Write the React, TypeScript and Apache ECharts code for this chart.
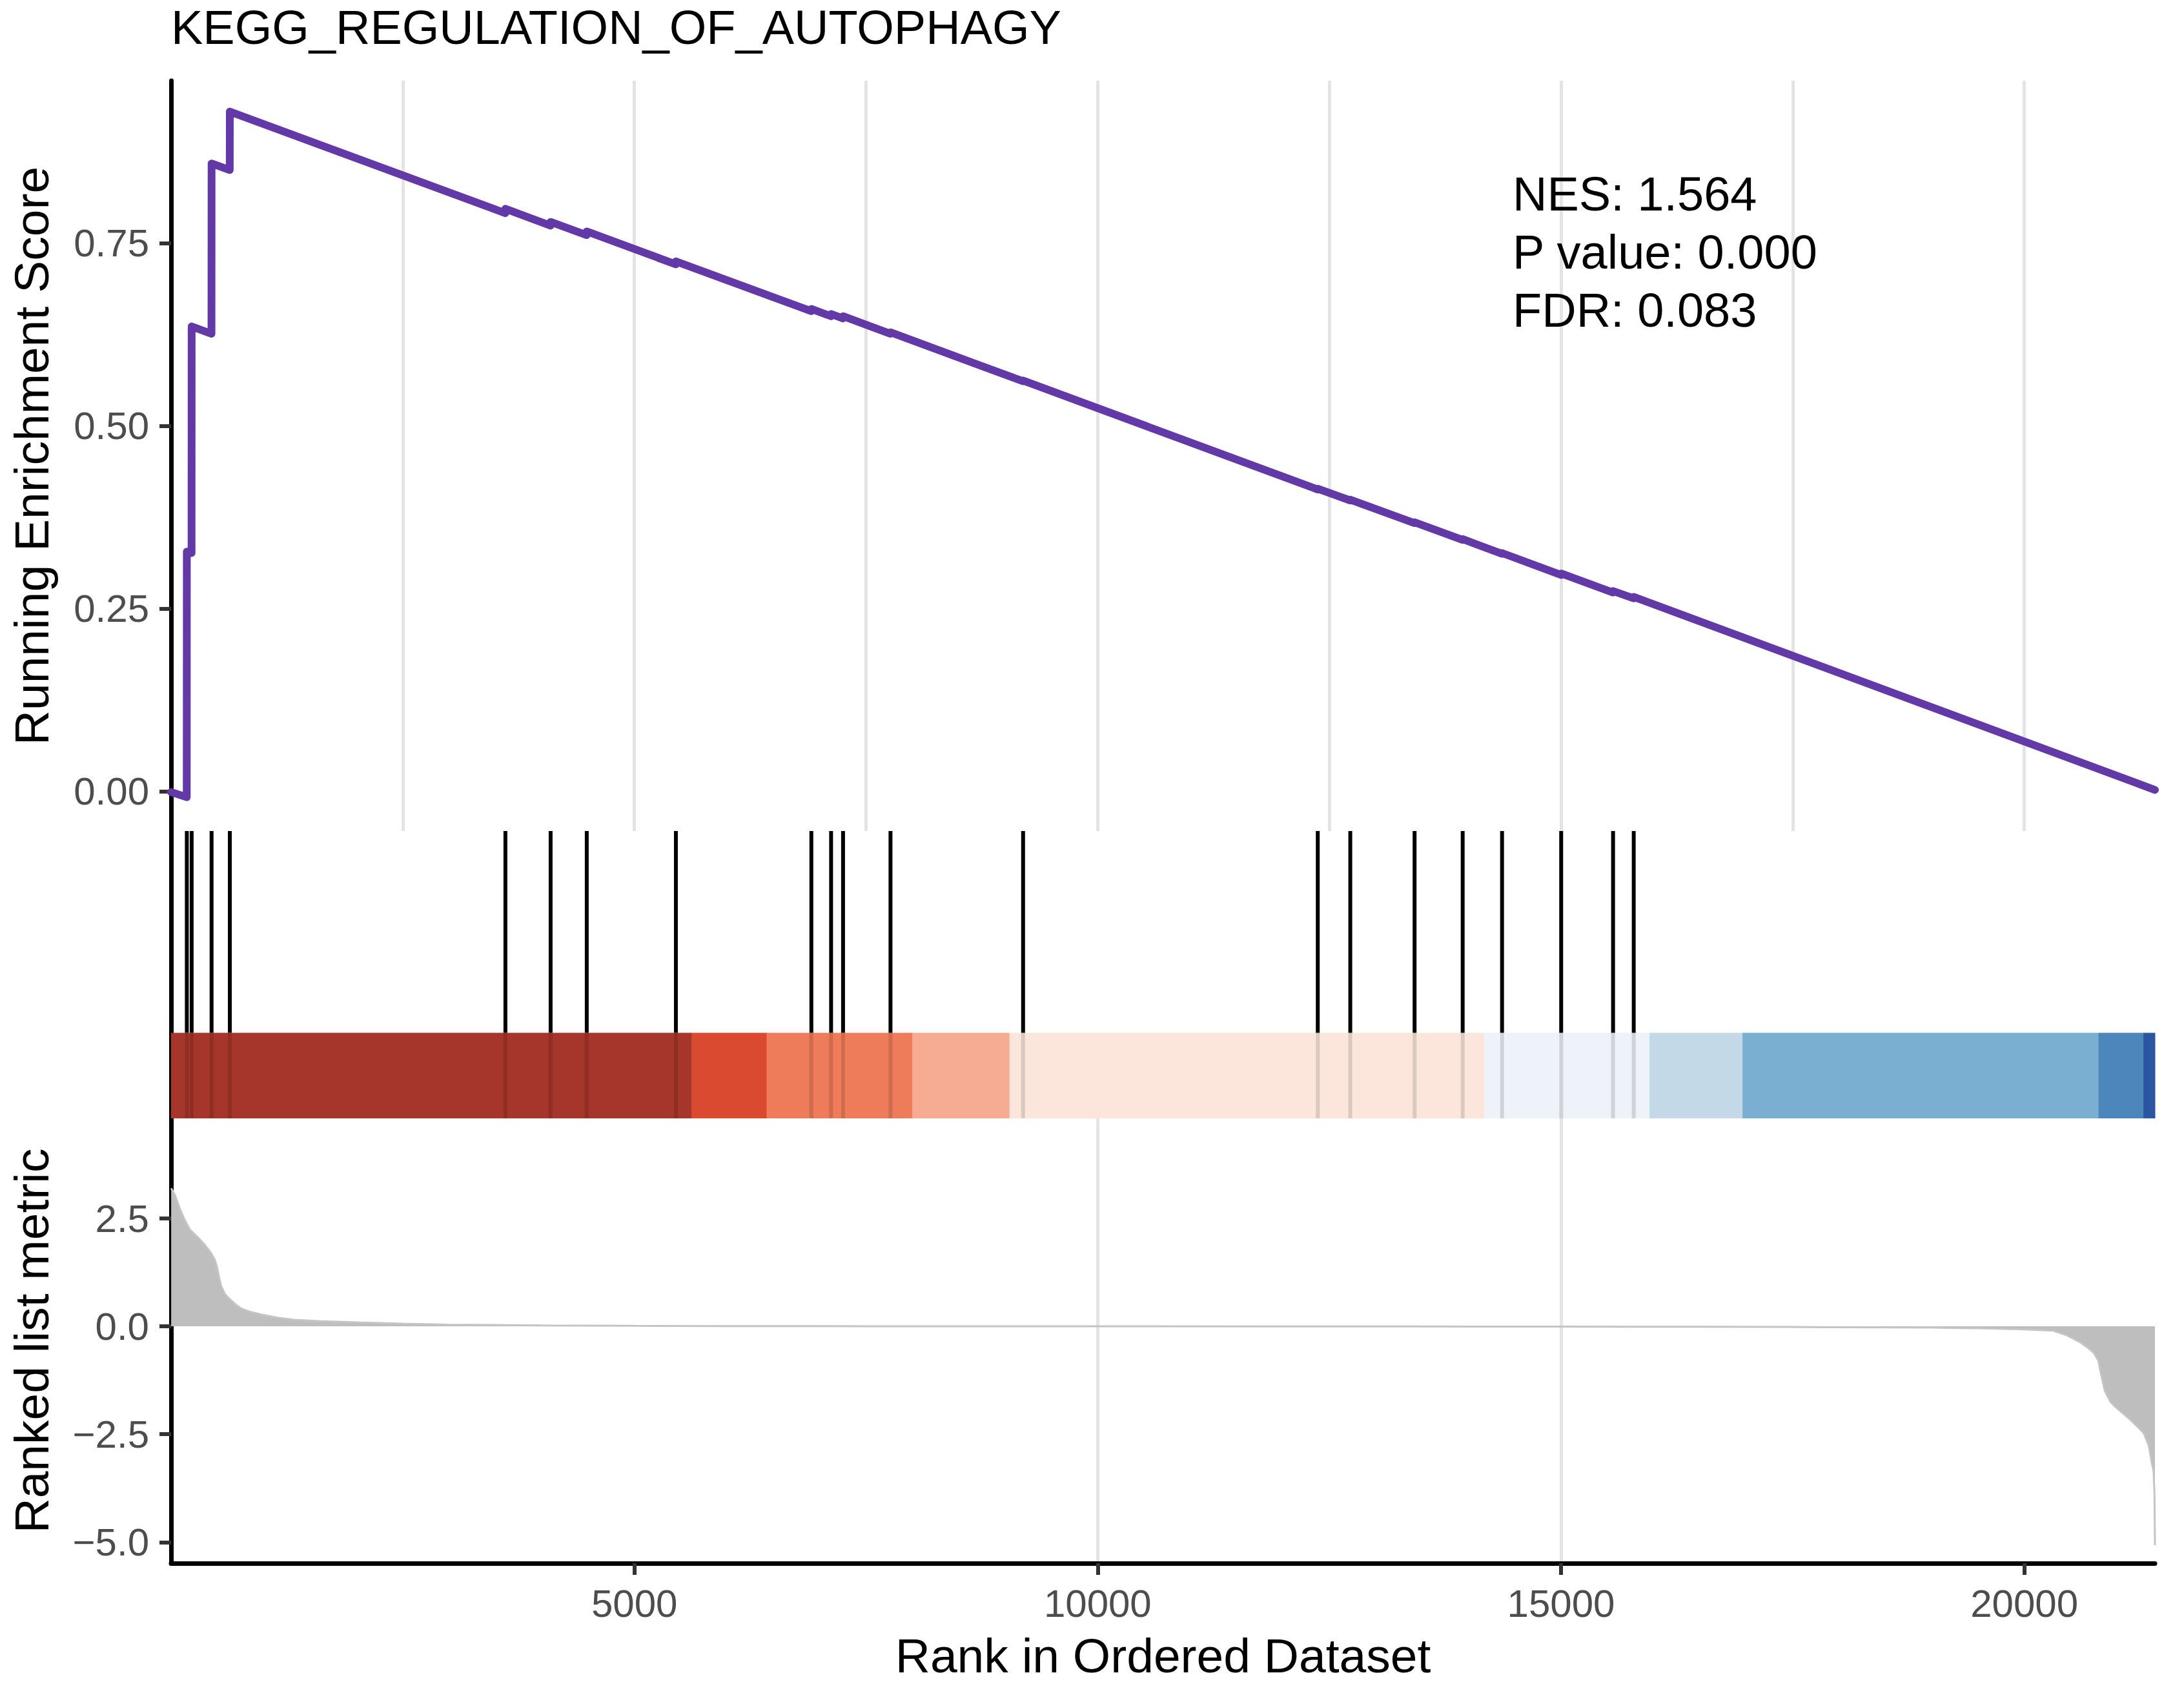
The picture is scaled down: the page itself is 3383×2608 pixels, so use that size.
import React, { useEffect, useRef } from "react";
import * as echarts from "echarts";

// ---------------- data ----------------
const TITLE = "KEGG_REGULATION_OF_AUTOPHAGY";
const STATS_LINES = ["NES: 1.564", "P value: 0.000", "FDR: 0.083"];
const X_TITLE = "Rank in Ordered Dataset";
const Y_TITLE_TOP = "Running Enrichment Score";
const Y_TITLE_BOTTOM = "Ranked list metric";

const X_MAX = 21410;
const X_TICKS = [5000, 10000, 15000, 20000];
const ES_TICKS = [0, 0.25, 0.5, 0.75];
const METRIC_TICKS = [-5, -2.5, 0, 2.5];

// running enrichment score (vertices of the step curve)
const ES_RANKS = [0, 169, 170, 221, 222, 436, 437, 633, 634, 3607, 3608, 4095, 4096, 4485, 4486, 5447, 5448, 6909, 6910, 7122, 7123, 7251, 7252, 7763, 7764, 9194, 9195, 12374, 12375, 12725, 12726, 13419, 13420, 13938, 13939, 14363, 14364, 15001, 15002, 15561, 15562, 15784, 15785, 21410];
const ES_VALUES = [-0.001, -0.008, 0.328, 0.326, 0.636, 0.626, 0.859, 0.850, 0.930, 0.791, 0.797, 0.774, 0.779, 0.761, 0.766, 0.721, 0.725, 0.657, 0.660, 0.650, 0.653, 0.647, 0.650, 0.626, 0.628, 0.561, 0.562, 0.413, 0.414, 0.398, 0.399, 0.367, 0.368, 0.344, 0.345, 0.325, 0.326, 0.296, 0.298, 0.272, 0.274, 0.264, 0.266, 0.002];

// gene-set hit positions
const HIT_RANKS = [170, 222, 437, 634, 3608, 4096, 4486, 5448, 6910, 7123, 7252, 7764, 9195, 12375, 12726, 13420, 13939, 14364, 15002, 15562, 15785];

// ranked list metric
const METRIC_RANKS = [1, 40, 100, 146, 200, 286, 360, 425, 470, 495, 520, 541, 580, 634, 700, 750, 850, 982, 1150, 1330, 1600, 2027, 2500, 3000, 4000, 5000, 6000, 7500, 9000, 10500, 12000, 13500, 15000, 16500, 17500, 18500, 19000, 19500, 20000, 20313, 20452, 20612, 20700, 20752, 20800, 20822, 20870, 20930, 20986, 21148, 21288, 21344, 21376, 21395, 21405, 21410];
const METRIC_VALUES = [3.2, 3.05, 2.7, 2.47, 2.25, 2.07, 1.9, 1.72, 1.55, 1.38, 1.12, 0.93, 0.75, 0.63, 0.5, 0.42, 0.34, 0.27, 0.2, 0.15, 0.12, 0.09, 0.06, 0.04, 0.02, 0.012, 0.007, 0.003, 0.001, 0.0, -0.001, -0.003, -0.006, -0.01, -0.015, -0.025, -0.03, -0.045, -0.07, -0.1, -0.2, -0.38, -0.52, -0.62, -0.8, -1.05, -1.5, -1.75, -1.87, -2.17, -2.47, -2.77, -3.17, -3.35, -3.9, -5.07];

// colour bar segments (rank ranges)
const BAR_STARTS = [0, 5618, 6427, 8000, 9048, 14173, 15955, 16959, 20800, 21285];
const BAR_ENDS = [5618, 6427, 8000, 9048, 14173, 15955, 16959, 20800, 21285, 21410];

// ---------------- styles / layout ----------------
const BAR_COLORS = ["#A6352B", "#D94A30", "#EE7B5A", "#F6AC92", "#FCE6DB", "#EEF2F9", "#C3D9E7", "#7AAFD2", "#4D86BA", "#2B56A1"];
const FONT = "'Liberation Sans', Arial, Helvetica, sans-serif";
const W = 3383;
const H = 2608;
const PLOT_L = 265;
const PLOT_R = 3338;
const TOP_T = 125;
const TOP_B = 1287;
const MID_B = 1732;
const BOT_B = 2421;
const BAR_TOP = 0.298;
const GRID_COLOR = "#E4E4E4";
const TICK_COLOR = "#333333";
const LABEL_COLOR = "#4D4D4D";

const fmtMinus = (v: number, d: number) => (v < 0 ? "\u2212" : "") + Math.abs(v).toFixed(d);

function buildOption(): any {
  const width = PLOT_R - PLOT_L;
  const axisLine = { show: true, onZero: false, lineStyle: { color: "#000", width: 7 } };
  const splitLine = { show: true, showMinLine: false, showMaxLine: false, lineStyle: { color: GRID_COLOR, width: 5 } };

  return {
    animation: false,
    backgroundColor: "#ffffff",
    textStyle: { fontFamily: FONT },
    grid: [
      { left: PLOT_L, width, top: TOP_T, height: TOP_B - TOP_T, outerBoundsMode: "none", containLabel: false },
      { left: PLOT_L, width, top: TOP_B, height: MID_B - TOP_B, outerBoundsMode: "none", containLabel: false },
      { left: PLOT_L, width, top: MID_B, height: BOT_B - MID_B, outerBoundsMode: "none", containLabel: false },
    ],
    xAxis: [
      {
        gridIndex: 0, type: "value", min: 0, max: X_MAX, interval: 2500,
        axisLine: { show: false }, axisTick: { show: false }, axisLabel: { show: false },
        splitLine,
      },
      {
        gridIndex: 1, type: "value", min: 0, max: X_MAX, interval: 2500,
        axisLine: { show: false }, axisTick: { show: false }, axisLabel: { show: false },
        splitLine: { show: false },
      },
      {
        gridIndex: 2, type: "value", min: 0, max: X_MAX, interval: 2500,
        axisLine,
        axisTick: { show: true, customValues: X_TICKS, length: 18, lineStyle: { color: TICK_COLOR, width: 6 } },
        axisLabel: {
          show: true, customValues: X_TICKS, margin: 32, fontSize: 60, color: LABEL_COLOR, fontFamily: FONT,
          formatter: (v: number) => String(v),
        },
        splitLine,
      },
    ],
    yAxis: [
      {
        gridIndex: 0, type: "value", min: -0.0543, max: 0.9722,
        axisLine,
        axisTick: { show: true, customValues: ES_TICKS, length: 18, lineStyle: { color: TICK_COLOR, width: 6 } },
        axisLabel: {
          show: true, customValues: ES_TICKS, margin: 34, fontSize: 60, color: LABEL_COLOR, fontFamily: FONT,
          formatter: (v: number) => fmtMinus(v, 2),
        },
        splitLine: { show: false },
      },
      {
        gridIndex: 1, type: "value", min: 0, max: 1,
        axisLine, axisTick: { show: false }, axisLabel: { show: false }, splitLine: { show: false },
      },
      {
        gridIndex: 2, type: "value", min: -5.49, max: 4.82,
        axisLine,
        axisTick: { show: true, customValues: METRIC_TICKS, length: 18, lineStyle: { color: TICK_COLOR, width: 6 } },
        axisLabel: {
          show: true, customValues: METRIC_TICKS, margin: 34, fontSize: 60, color: LABEL_COLOR, fontFamily: FONT,
          formatter: (v: number) => fmtMinus(v, 1),
        },
        splitLine: { show: false },
      },
    ],
    series: [
      {
        name: "es",
        type: "line",
        xAxisIndex: 0, yAxisIndex: 0,
        data: ES_RANKS.map((r, i) => [r, ES_VALUES[i]]),
        showSymbol: false, symbol: "none",
        lineStyle: { color: "#6339A8", width: 12, join: "round", cap: "round" },
        z: 5,
      },
      {
        name: "bar",
        type: "custom",
        xAxisIndex: 1, yAxisIndex: 1,
        data: BAR_STARTS.map((s, i) => [s, BAR_ENDS[i], i]),
        encode: { x: [0, 1] },
        renderItem: (_p: any, api: any) => {
          const p0 = api.coord([api.value(0), BAR_TOP]);
          const p1 = api.coord([api.value(1), 0]);
          return {
            type: "rect",
            shape: { x: p0[0], y: p0[1], width: p1[0] - p0[0] + 0.5, height: p1[1] - p0[1] },
            style: { fill: BAR_COLORS[api.value(2)] },
          };
        },
        z: 3,
      },
      {
        name: "hits",
        type: "custom",
        xAxisIndex: 1, yAxisIndex: 1,
        data: HIT_RANKS.map((r) => [r, 1]),
        encode: { x: 0, y: 1 },
        renderItem: (_p: any, api: any) => {
          const top = api.coord([api.value(0), 1]);
          const mid = api.coord([api.value(0), BAR_TOP]);
          const bot = api.coord([api.value(0), 0]);
          return {
            type: "group",
            children: [
              { type: "line", shape: { x1: top[0], y1: top[1], x2: mid[0], y2: mid[1] }, style: { stroke: "#000", lineWidth: 6 } },
              { type: "line", shape: { x1: mid[0], y1: mid[1], x2: bot[0], y2: bot[1] }, style: { stroke: "#000", lineWidth: 6, opacity: 0.13 } },
            ],
          };
        },
        z: 4,
      },
      {
        name: "metric",
        type: "line",
        xAxisIndex: 2, yAxisIndex: 2,
        data: METRIC_RANKS.map((r, i) => [r, METRIC_VALUES[i]]),
        showSymbol: false, symbol: "none",
        lineStyle: { color: "#C4C4C4", width: 3 },
        areaStyle: { color: "#BEBEBE", opacity: 1 },
        z: 2,
      },
    ],
    graphic: [
      { type: "text", x: PLOT_L, y: 42, style: { text: TITLE, fontSize: 74, fontFamily: FONT, fill: "#000", align: "left", verticalAlign: "middle" } },
      { type: "text", x: 49, y: (TOP_T + TOP_B) / 2, rotation: Math.PI / 2, style: { text: Y_TITLE_TOP, fontSize: 75, fontFamily: FONT, fill: "#000", align: "center", verticalAlign: "middle" } },
      { type: "text", x: 49, y: (MID_B + BOT_B) / 2, rotation: Math.PI / 2, style: { text: Y_TITLE_BOTTOM, fontSize: 75, fontFamily: FONT, fill: "#000", align: "center", verticalAlign: "middle" } },
      { type: "text", x: (PLOT_L + PLOT_R) / 2, y: 2564, style: { text: X_TITLE, fontSize: 75, fontFamily: FONT, fill: "#000", align: "center", verticalAlign: "middle" } },
      ...STATS_LINES.map((t, i) => ({
        type: "text", x: 2343, y: 300 + i * 90, z: 10,
        style: { text: t, fontSize: 74, fontFamily: FONT, fill: "#000", align: "left", verticalAlign: "middle" },
      })),
    ],
  };
}

export default function App() {
  const ref = useRef<HTMLDivElement>(null);
  useEffect(() => {
    if (!ref.current) return;
    const chart = echarts.init(ref.current, null, { renderer: "svg", width: W, height: H });
    chart.setOption(buildOption());
    return () => chart.dispose();
  }, []);
  return <div ref={ref} style={{ position: "absolute", left: 0, top: 0, width: W, height: H, background: "#fff" }} />;
}
